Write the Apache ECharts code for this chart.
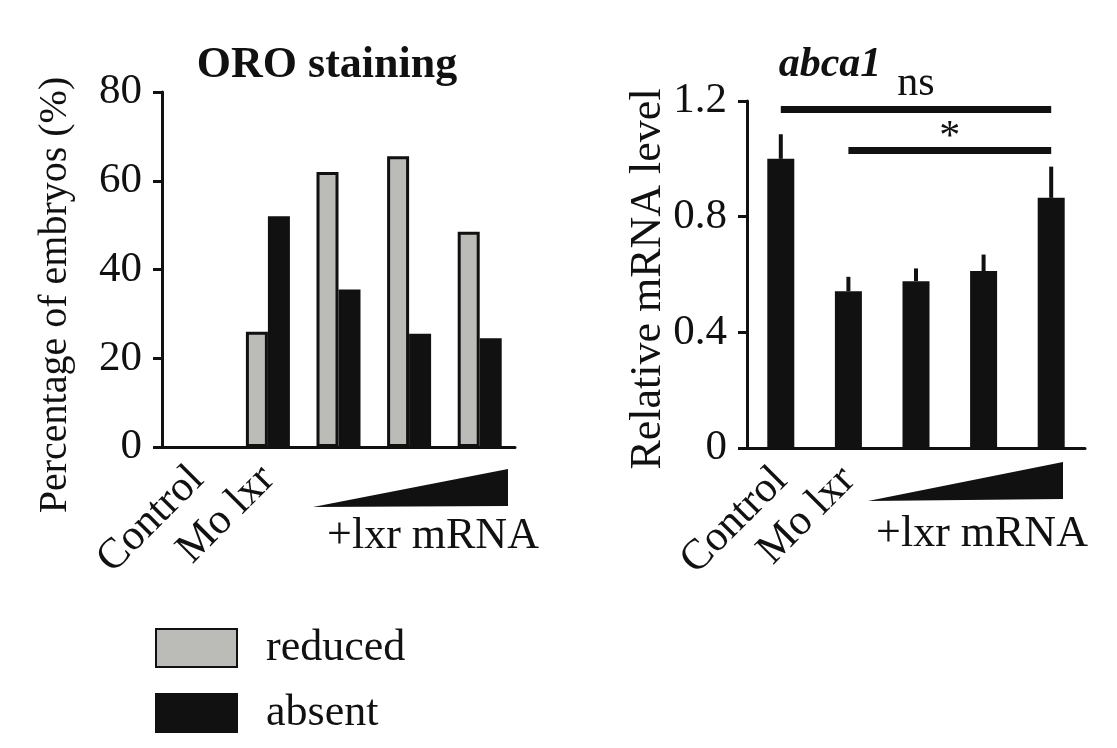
<!DOCTYPE html>
<html>
<head>
<meta charset="utf-8">
<script src="https://cdn.jsdelivr.net/npm/echarts@6/dist/echarts.min.js"></script>
<style>
html,body{margin:0;padding:0;background:#fff;}
#c{width:1117px;height:748px;}
</style>
</head>
<body>
<div id="c"></div>
<script>
// ---- data ----
var categories = ['Control', 'Mo lxr', '', '', ''];
var reducedValues = [0, 26, 62, 65.5, 48.5];
var absentValues = [0, 52, 35.5, 25.5, 24.5];
var abcaValues = [1.0, 0.542, 0.577, 0.612, 0.865];
var abcaErrors = [0.085, 0.05, 0.044, 0.057, 0.108];
var leftTicks = [0, 20, 40, 60, 80];
var rightTicks = [0, 0.4, 0.8, 1.2];
var nsLine = { from: 'Control', to: 4, y: 1.172, label: 'ns' };
var starLine = { from: 1, to: 4, y: 1.031, label: '*' };

var FONT = '"Liberation Serif", "Times New Roman", serif';
var BLACK = '#111111';
var GRAY = '#bbbcb7';

var chart = echarts.init(document.getElementById('c'));

function yAxisCommon(idx, ticks) {
  return {
    type: 'value', gridIndex: idx,
    min: ticks[0], max: ticks[ticks.length - 1],
    interval: ticks[1] - ticks[0],
    splitLine: { show: false },
    axisLine: { show: true, lineStyle: { color: BLACK, width: 3 } },
    axisTick: { show: true, length: 9, lineStyle: { color: BLACK, width: 3 } },
    axisLabel: { color: BLACK, fontFamily: FONT, fontSize: 43, margin: 20 }
  };
}
function xAxisCommon(idx) {
  return {
    type: 'category', gridIndex: idx, data: categories,
    axisLine: { show: true, lineStyle: { color: BLACK, width: 3 } },
    axisTick: { show: false },
    axisLabel: { color: BLACK, fontFamily: FONT, fontSize: 43, rotate: 45, margin: 26, interval: 0 }
  };
}
function noBorderZero(values) {
  return values.map(function (v) {
    return v === 0 ? { value: v, itemStyle: { borderWidth: 0 } } : v;
  });
}

var option = {
  backgroundColor: '#fff',
  animation: false,
  title: [
    { text: 'ORO staining', left: 322, top: 39, textAlign: 'center',
      textStyle: { fontFamily: FONT, fontSize: 44, fontWeight: 'bold', color: BLACK } },
    { text: 'abca1', left: 825, top: 39, textAlign: 'center',
      textStyle: { fontFamily: FONT, fontSize: 42, fontWeight: 'bold', fontStyle: 'italic', color: BLACK } }
  ],
  legend: {
    data: ['reduced', 'absent'],
    orient: 'vertical', left: 155, top: 626, height: 110,
    itemWidth: 81, itemHeight: 38, itemGap: 21,
    icon: 'rect',
    selectedMode: false,
    padding: 0,
    textStyle: { fontFamily: FONT, fontSize: 44, lineHeight: 40, color: BLACK, padding: [0, 0, 0, 24] }
  },
  grid: [
    { left: 162, top: 92, width: 353, height: 355 },
    { left: 747, top: 101, width: 338, height: 347 }
  ],
  xAxis: [xAxisCommon(0), xAxisCommon(1)],
  yAxis: [yAxisCommon(0, leftTicks), yAxisCommon(1, rightTicks)],
  series: [
    { name: 'reduced', type: 'bar', xAxisIndex: 0, yAxisIndex: 0, data: noBorderZero(reducedValues),
      barWidth: 22, barGap: '0%',
      itemStyle: { color: GRAY, borderColor: BLACK, borderWidth: 3 } },
    { name: 'absent', type: 'bar', xAxisIndex: 0, yAxisIndex: 0, data: noBorderZero(absentValues),
      barWidth: 22, barGap: '0%',
      itemStyle: { color: BLACK, borderColor: BLACK, borderWidth: 3 } },
    { name: 'abca1', type: 'bar', xAxisIndex: 1, yAxisIndex: 1, data: abcaValues,
      barWidth: 27, itemStyle: { color: BLACK } ,
      markLine: {
        silent: true, symbol: 'none',
        lineStyle: { color: BLACK, width: 7, type: 'solid' },
        label: { show: true, position: 'insideMiddleTop', distance: 4, color: BLACK, fontFamily: FONT, fontSize: 42 },
        data: [
          [ { coord: [nsLine.from, nsLine.y], label: { formatter: nsLine.label } }, { coord: [nsLine.to, nsLine.y] } ],
          [ { coord: [starLine.from, starLine.y], label: { formatter: starLine.label, distance: -9 } }, { coord: [starLine.to, starLine.y] } ]
        ]
      }
    },
    { name: 'err', type: 'custom', xAxisIndex: 1, yAxisIndex: 1,
      data: abcaValues.map(function (v, i) { return [i, v, v + abcaErrors[i]]; }),
      renderItem: function (params, api) {
        var p0 = api.coord([api.value(0), api.value(1)]);
        var p1 = api.coord([api.value(0), api.value(2)]);
        return { type: 'line', shape: { x1: p0[0], y1: p0[1], x2: p1[0], y2: p1[1] },
                 style: { stroke: BLACK, lineWidth: 4 } };
      }
    }
  ],
  graphic: [
    { type: 'text', x: 55, y: 295, rotation: Math.PI / 2,
      style: { text: 'Percentage of embryos (%)', font: '40px ' + FONT, fill: BLACK, textAlign: 'center', textVerticalAlign: 'middle' } },
    { type: 'text', x: 648, y: 279, rotation: Math.PI / 2,
      style: { text: 'Relative mRNA level', font: '44px ' + FONT, fill: BLACK, textAlign: 'center', textVerticalAlign: 'middle' } },
    { type: 'polygon', shape: { points: [[313, 507], [508, 469], [508, 506]] }, style: { fill: BLACK } },
    { type: 'polygon', shape: { points: [[868, 501], [1063, 462], [1063, 499]] }, style: { fill: BLACK } },
    { type: 'text', x: 433, y: 536,
      style: { text: '+lxr mRNA', font: '44px ' + FONT, fill: BLACK, textAlign: 'center', textVerticalAlign: 'middle' } },
    { type: 'text', x: 982, y: 534,
      style: { text: '+lxr mRNA', font: '44px ' + FONT, fill: BLACK, textAlign: 'center', textVerticalAlign: 'middle' } }
  ]
};
chart.setOption(option);
</script>
</body>
</html>
